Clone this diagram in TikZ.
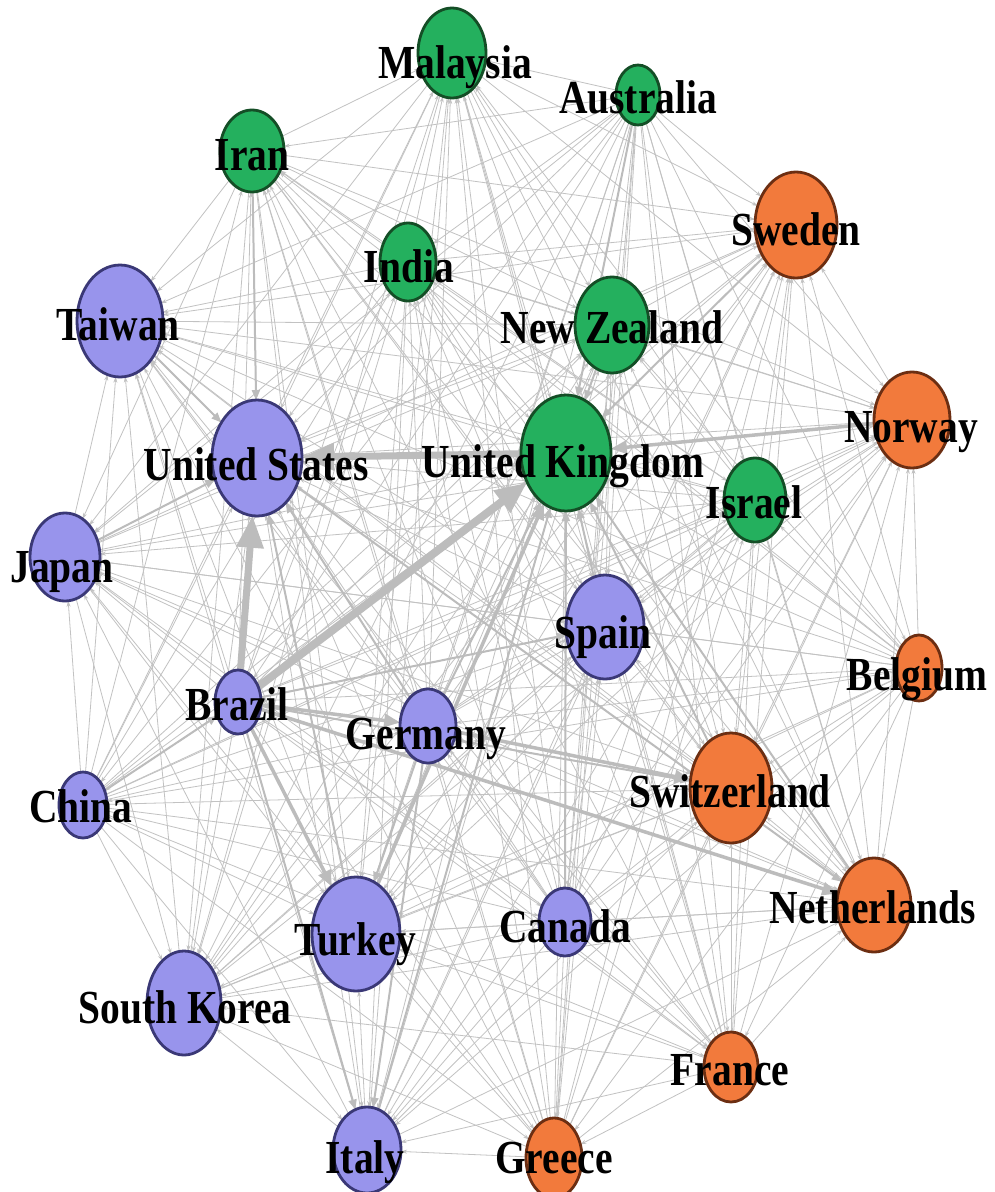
\documentclass[tikz,border=0pt]{standalone}
\usepackage{fontspec}
\setmainfont{Liberation Serif}
\usepackage{graphicx}
\usetikzlibrary{shapes.geometric,arrows.meta}
\pgfdeclarelayer{bg}
\pgfsetlayers{bg,main}
\definecolor{purp}{RGB}{152,148,236}
\definecolor{purpd}{RGB}{58,56,118}
\definecolor{grn}{RGB}{36,176,94}
\definecolor{grnd}{RGB}{20,78,38}
\definecolor{org}{RGB}{242,122,60}
\definecolor{orgd}{RGB}{108,46,18}
\definecolor{edgec}{RGB}{194,194,194}
\definecolor{heavyc}{RGB}{188,188,188}
\tikzset{
 cn/.style={ellipse, draw, line width=2.8pt, inner sep=0pt, outer sep=0pt},
 cpu/.style={cn, fill=purp, draw=purpd},
 cgr/.style={cn, fill=grn, draw=grnd},
 cor/.style={cn, fill=org, draw=orgd},
 lab/.style={anchor=base, inner sep=0pt, font=\fontsize{39.5}{40}\selectfont\bfseries},
 thinedge/.style={draw=edgec, line width=0.8pt, -{Stealth[length=6pt,width=4pt]}},
 hv/.style={draw=heavyc, line width=7pt, -{Triangle[length=32pt,width=26pt]}},
 md/.style={draw=heavyc, line width=3.5pt, -{Triangle[length=16pt,width=13pt]}},
 sm/.style={draw=heavyc, line width=2pt, -{Triangle[length=10pt,width=8pt]}}
}
\begin{document}
\begin{tikzpicture}[x=1pt,y=-1pt]
\useasboundingbox (0,0) rectangle (994,1192);
% nodes
\node[cgr, minimum width=68pt, minimum height=90pt] (mal) at (452,53) {};
\node[cgr, minimum width=44pt, minimum height=60pt] (aus) at (638,95) {};
\node[cgr, minimum width=64pt, minimum height=82pt] (ira) at (252,151) {};
\node[cgr, minimum width=56pt, minimum height=78pt] (ind) at (408,262) {};
\node[cor, minimum width=82pt, minimum height=106pt] (swe) at (796,225) {};
\node[cpu, minimum width=86pt, minimum height=112pt] (tai) at (120,321) {};
\node[cgr, minimum width=74pt, minimum height=96pt] (nz) at (612,325) {};
\node[cpu, minimum width=90pt, minimum height=116pt] (us) at (257,458) {};
\node[cgr, minimum width=90pt, minimum height=116pt] (uk) at (566,453) {};
\node[cor, minimum width=76pt, minimum height=96pt] (nor) at (912,420) {};
\node[cgr, minimum width=62pt, minimum height=84pt] (isr) at (755,500) {};
\node[cpu, minimum width=70pt, minimum height=88pt] (jap) at (65,557) {};
\node[cpu, minimum width=78pt, minimum height=104pt] (spa) at (605,627) {};
\node[cor, minimum width=46pt, minimum height=66pt] (bel) at (919,668) {};
\node[cpu, minimum width=46pt, minimum height=64pt] (bra) at (238,702) {};
\node[cpu, minimum width=56pt, minimum height=74pt] (ger) at (428,726) {};
\node[cpu, minimum width=48pt, minimum height=66pt] (chi) at (83,805) {};
\node[cor, minimum width=82pt, minimum height=110pt] (swi) at (731,788) {};
\node[cor, minimum width=74pt, minimum height=94pt] (net) at (874,905) {};
\node[cpu, minimum width=88pt, minimum height=114pt] (tur) at (356,934) {};
\node[cpu, minimum width=52pt, minimum height=68pt] (can) at (565,922) {};
\node[cpu, minimum width=74pt, minimum height=104pt] (sk) at (184,1003) {};
\node[cor, minimum width=54pt, minimum height=70pt] (fra) at (731,1067) {};
\node[cpu, minimum width=68pt, minimum height=86pt] (ita) at (367,1150) {};
\node[cor, minimum width=56pt, minimum height=80pt] (gre) at (554,1158) {};
% edges
\begin{pgfonlayer}{bg}
\fill[white] (0,0) rectangle (994,1192);
\foreach \a [count=\i] in {us,uk,tur,tai,swe,swi,spa,nor,nz,net,sk,jap,mal,ita,ira,isr,ind,ger,gre,fra,can,chi,bra,bel,aus}{
  \foreach \b [count=\j] in {us,uk,tur,tai,swe,swi,spa,nor,nz,net,sk,jap,mal,ita,ira,isr,ind,ger,gre,fra,can,chi,bra,bel,aus}{
    \ifnum\j>\i \draw[thinedge] (\b) -- (\a);\fi
  }
}
\draw[hv] (uk) -- (us);
\draw[hv] (bra) -- (us);
\draw[hv, line width=8pt] (bra) -- (uk);
\draw[md] (bra) -- (net);
\draw[md] (bra) -- (ger);
\draw[md] (ger) -- (swi);
\draw[md] (bra) -- (tur);
\draw[md] (nor) -- (uk);
\draw[md] (tur) -- (uk);
\draw[sm] (bra) -- (ita);
\draw[sm] (ger) -- (uk);
\draw[sm] (swe) -- (uk);
\draw[sm] (nz) -- (uk);
\draw[sm] (net) -- (uk);
\draw[sm] (swi) -- (uk);
\draw[sm] (aus) -- (uk);
\draw[sm] (can) -- (uk);
\draw[sm] (spa) -- (uk);
\draw[sm] (ita) -- (uk);
\draw[sm] (jap) -- (us);
\draw[sm] (tai) -- (us);
\draw[sm] (ira) -- (us);
\draw[sm] (ger) -- (us);
\draw[sm] (tur) -- (us);
\draw[sm] (chi) -- (bra);
\draw[sm] (ger) -- (tur);
\draw[sm] (ger) -- (ita);
\draw[sm] (bra) -- (spa);
\draw[sm] (bra) -- (swi);
\draw[sm] (us) -- (net);
\end{pgfonlayer}
% labels
\node[lab] (mal-l) at (455,78) {\scalebox{1}[1.2]{Malaysia}};
\node[lab] (aus-l) at (638,113) {\scalebox{1}[1.2]{Australia}};
\node[lab] (ira-l) at (252,170) {\scalebox{1}[1.2]{Iran}};
\node[lab] (ind-l) at (409,282) {\scalebox{1}[1.2]{India}};
\node[lab] (swe-l) at (796,245) {\scalebox{1}[1.2]{Sweden}};
\node[lab] (tai-l) at (118,340) {\scalebox{1}[1.2]{Taiwan}};
\node[lab] (nz-l) at (612,343) {\scalebox{1}[1.2]{New Zealand}};
\node[lab] (us-l) at (256,480) {\scalebox{1}[1.2]{United States}};
\node[lab] (uk-l) at (563,477) {\scalebox{1}[1.2]{United Kingdom}};
\node[lab] (nor-l) at (911,442) {\scalebox{1}[1.2]{Norway}};
\node[lab] (isr-l) at (754,518) {\scalebox{1}[1.2]{Israel}};
\node[lab] (jap-l) at (62,582) {\scalebox{1}[1.2]{Japan}};
\node[lab] (spa-l) at (603,648) {\scalebox{1}[1.2]{Spain}};
\node[lab] (bel-l) at (917,690) {\scalebox{1}[1.2]{Belgium}};
\node[lab] (bra-l) at (237,720) {\scalebox{1}[1.2]{Brazil}};
\node[lab] (ger-l) at (426,749) {\scalebox{1}[1.2]{Germany}};
\node[lab] (chi-l) at (81,822) {\scalebox{1}[1.2]{China}};
\node[lab] (swi-l) at (730,807) {\scalebox{1}[1.2]{Switzerland}};
\node[lab] (net-l) at (873,923) {\scalebox{1}[1.2]{Netherlands}};
\node[lab] (tur-l) at (355,955) {\scalebox{1}[1.2]{Turkey}};
\node[lab] (can-l) at (565,942) {\scalebox{1}[1.2]{Canada}};
\node[lab] (sk-l) at (185,1023) {\scalebox{1}[1.2]{South Korea}};
\node[lab] (fra-l) at (730,1085) {\scalebox{1}[1.2]{France}};
\node[lab] (ita-l) at (365,1173) {\scalebox{1}[1.2]{Italy}};
\node[lab] (gre-l) at (554,1173) {\scalebox{1}[1.2]{Greece}};
\end{tikzpicture}
\end{document}
